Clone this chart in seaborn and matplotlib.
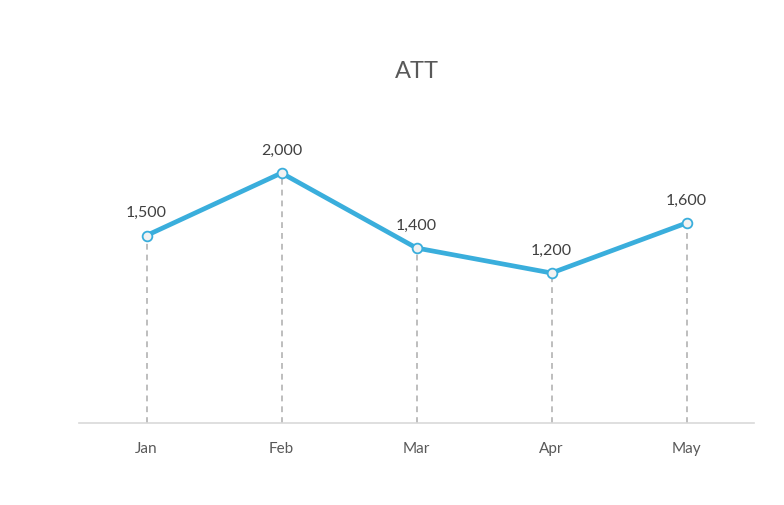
import matplotlib
matplotlib.use("Agg")
import matplotlib.pyplot as plt
import seaborn as sns
import pandas as pd

months = ["Jan", "Feb", "Mar", "Apr", "May"]
values = [1500, 2000, 1400, 1200, 1600]
title = "ATT"

sns.set_theme(style="white")
plt.rcParams['font.family'] = ['Lato', 'DejaVu Sans']

df = pd.DataFrame({"month": months, "value": values})

fig = plt.figure(figsize=(7.84, 5.05), dpi=100)
ax = fig.add_axes([79/784, 1 - 423/505, (754 - 79)/784, (423 - 113)/505])

blue = "#3AAEDC"
sns.lineplot(data=df, x="month", y="value", ax=ax, color=blue, linewidth=3.4,
             marker="o", markersize=7, markerfacecolor="#F2F2F2",
             markeredgecolor=blue, markeredgewidth=1.3, sort=False, zorder=3)

for i, v in enumerate(values):
    ax.vlines(i, 0, v, colors="#B3B3B3", linestyles=(0, (3.5, 3)), linewidth=1.2, zorder=1)
    ax.annotate(f"{v:,}", (i, v), xytext=(0, 11), textcoords="offset points",
                ha="center", va="bottom", fontsize=11.5, color="#404040")

ax.set_xlim(-0.5, 4.5)
ax.set_ylim(0, 2480)
ax.set_yticks([])
ax.set_xlabel("")
ax.set_ylabel("")
for s in ["top", "right", "left"]:
    ax.spines[s].set_visible(False)
ax.spines["bottom"].set_color("#D9D9D9")
ax.spines["bottom"].set_linewidth(1.2)
ax.tick_params(axis="x", length=0, pad=14, labelsize=11, labelcolor="#595959")

fig.text(417/784, 1 - 72/505, title, ha="center", va="center", fontsize=17, color="#595959")

fig.savefig("out.png", dpi=100)
